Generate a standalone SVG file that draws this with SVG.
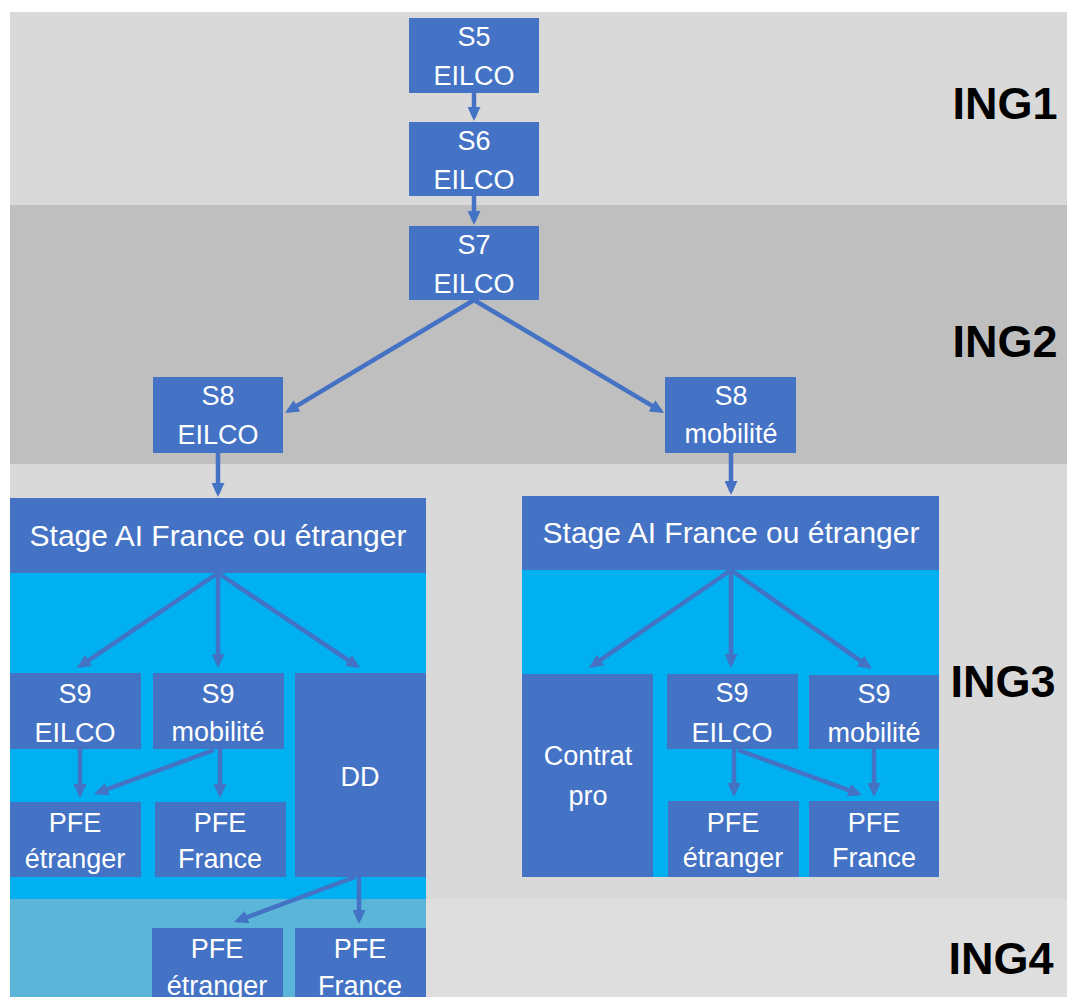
<svg xmlns="http://www.w3.org/2000/svg" width="1067" height="997" viewBox="0 0 1067 997">
<style>
.box{fill:#4472c4}
.t{font-family:"Liberation Sans",Arial,sans-serif;font-size:27px;fill:#ffffff;text-anchor:middle}
.ts{font-family:"Liberation Sans",Arial,sans-serif;font-size:30px;fill:#ffffff;text-anchor:middle}
.lvl{font-family:"Liberation Sans",Arial,sans-serif;font-size:45px;font-weight:bold;fill:#000000;text-anchor:middle}
.c{stroke:#4472c4;stroke-width:4.5;fill:none;marker-end:url(#ah)}
</style>
<defs>
<marker id="ah" markerUnits="userSpaceOnUse" markerWidth="14" markerHeight="13" viewBox="0 0 14 13" refX="10" refY="6.5" orient="auto">
<path d="M0,0 L14,6.5 L0,13 z" fill="#4472c4"/>
</marker>
</defs>
<rect x="0" y="0" width="1067" height="997" fill="#ffffff"/>
<g id="bands">
<rect x="10" y="12" width="1057" height="193" fill="#d9d9d9"/>
<rect x="10" y="205" width="1057" height="259" fill="#bfbfbf"/>
<rect x="10" y="464" width="1057" height="435" fill="#d9d9d9"/>
<rect x="10" y="899" width="1057" height="98" fill="#dedede"/>
<rect x="10" y="573" width="416" height="326" fill="#00b0f0"/>
<rect x="10" y="899" width="416" height="98" fill="#5bb5d9"/>
<rect x="522" y="570" width="417" height="307" fill="#00b0f0"/>
</g>
<g id="labels">
<text class="lvl" x="1005" y="119">ING1</text>
<text class="lvl" x="1005" y="357">ING2</text>
<text class="lvl" x="1003" y="697">ING3</text>
<text class="lvl" x="1001" y="974">ING4</text>
</g>
<g id="s5"><rect class="box" x="409" y="18" width="130" height="75"/><text class="t" x="474" y="46">S5</text><text class="t" x="474" y="85">EILCO</text></g>
<g id="s6"><rect class="box" x="409" y="122" width="130" height="74"/><text class="t" x="474" y="150">S6</text><text class="t" x="474" y="189">EILCO</text></g>
<g id="s7"><rect class="box" x="409" y="226" width="130" height="74"/><text class="t" x="474" y="254">S7</text><text class="t" x="474" y="293">EILCO</text></g>
<g id="s8-eilco"><rect class="box" x="153" y="377" width="130" height="76"/><text class="t" x="218" y="405">S8</text><text class="t" x="218" y="444">EILCO</text></g>
<g id="s8-mobilite"><rect class="box" x="665" y="377" width="131" height="76"/><text class="t" x="731" y="405">S8</text><text class="t" x="731" y="443">mobilité</text></g>
<g id="stage-left"><rect class="box" x="10" y="498" width="416" height="75"/><text class="ts" x="218" y="546">Stage AI France ou étranger</text></g>
<g id="stage-right"><rect class="box" x="522" y="496" width="417" height="74"/><text class="ts" x="731" y="543">Stage AI France ou étranger</text></g>
<g id="s9-eilco-left"><rect class="box" x="10" y="673" width="131" height="76"/><text class="t" x="75" y="703">S9</text><text class="t" x="75" y="742">EILCO</text></g>
<g id="s9-mobilite-left"><rect class="box" x="153" y="673" width="131" height="76"/><text class="t" x="218" y="703">S9</text><text class="t" x="218" y="741">mobilité</text></g>
<g id="dd"><rect class="box" x="295" y="673" width="131" height="204"/><text class="t" x="360" y="786">DD</text></g>
<g id="pfe-etranger-left"><rect class="box" x="10" y="802" width="131" height="75"/><text class="t" x="75" y="832">PFE</text><text class="t" x="75" y="868">étranger</text></g>
<g id="pfe-france-left"><rect class="box" x="155" y="802" width="131" height="75"/><text class="t" x="220" y="832">PFE</text><text class="t" x="220" y="868">France</text></g>
<g id="pfe-etranger-ing4"><rect class="box" x="152" y="928" width="131" height="69"/><text class="t" x="217" y="958">PFE</text><text class="t" x="217" y="995">étranger</text></g>
<g id="pfe-france-ing4"><rect class="box" x="295" y="928" width="131" height="69"/><text class="t" x="360" y="958">PFE</text><text class="t" x="360" y="995">France</text></g>
<g id="contrat-pro"><rect class="box" x="522" y="674" width="131" height="203"/><text class="t" x="588" y="765">Contrat</text><text class="t" x="588" y="805">pro</text></g>
<g id="s9-eilco-right"><rect class="box" x="667" y="674" width="131" height="75"/><text class="t" x="732" y="702">S9</text><text class="t" x="732" y="742">EILCO</text></g>
<g id="s9-mobilite-right"><rect class="box" x="809" y="675" width="130" height="74"/><text class="t" x="874" y="703">S9</text><text class="t" x="874" y="742">mobilité</text></g>
<g id="pfe-etranger-right"><rect class="box" x="668" y="801" width="131" height="76"/><text class="t" x="733" y="832">PFE</text><text class="t" x="733" y="867">étranger</text></g>
<g id="pfe-france-right"><rect class="box" x="809" y="801" width="130" height="76"/><text class="t" x="874" y="832">PFE</text><text class="t" x="874" y="867">France</text></g>
<g id="connectors">
<line class="c" x1="474" y1="93" x2="474" y2="117"/>
<line class="c" x1="474" y1="196" x2="474" y2="221"/>
<line class="c" x1="474" y1="300" x2="288.4" y2="410.9"/>
<line class="c" x1="474" y1="300" x2="660.6" y2="410.9"/>
<line class="c" x1="218" y1="453" x2="218" y2="493"/>
<line class="c" x1="731" y1="453" x2="731" y2="491"/>
<line class="c" x1="218" y1="573" x2="80.3" y2="665.8"/>
<line class="c" x1="218" y1="573" x2="218" y2="664"/>
<line class="c" x1="218" y1="573" x2="356.7" y2="665.8"/>
<line class="c" x1="80" y1="749" x2="80" y2="794"/>
<line class="c" x1="214" y1="750" x2="97.8" y2="792.6"/>
<line class="c" x1="220" y1="749" x2="220" y2="794"/>
<line class="c" x1="355" y1="877" x2="237.7" y2="920.6"/>
<line class="c" x1="359" y1="877" x2="359" y2="920"/>
<line class="c" x1="731" y1="570" x2="592.3" y2="665.7"/>
<line class="c" x1="731" y1="570" x2="731" y2="664"/>
<line class="c" x1="731" y1="570" x2="868.7" y2="666.7"/>
<line class="c" x1="734" y1="749" x2="734" y2="793"/>
<line class="c" x1="738" y1="750" x2="858.2" y2="793.6"/>
<line class="c" x1="874" y1="749" x2="874" y2="793"/>
</g>
</svg>
